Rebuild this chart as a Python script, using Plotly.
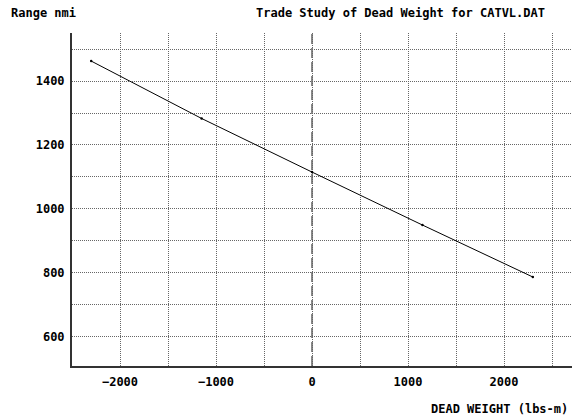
import plotly.graph_objects as go

# Data
DEAD_WEIGHT = [-2300, -1150, 0, 1150, 2300]          # lbs-m
RANGE_NMI = [1463, 1283, 1115, 949, 786]             # nmi
ZERO_REF = 0                                          # baseline (dashed line)

X_RANGE = [-2500, 2708]
Y_RANGE = [507, 1551]

TITLE = "Trade Study of Dead Weight for CATVL.DAT"
Y_LABEL = "Range nmi"
X_LABEL = "DEAD WEIGHT (lbs-m)"

FONT = dict(family="DejaVu Sans Mono", size=12, color="black", weight="bold")
GRID_COLOR = "#666666"
GRID_DASH = "1px,1px"

fig = go.Figure()
fig.add_trace(go.Scatter(
    x=DEAD_WEIGHT, y=RANGE_NMI, mode="lines+markers",
    line=dict(color="black", width=1),
    marker=dict(color="black", size=2.5),
    showlegend=False, hoverinfo="skip",
))

fig.add_shape(type="line", xref="x", yref="paper",
              x0=ZERO_REF, x1=ZERO_REF, y0=0, y1=1, layer="between",
              line=dict(color="#888888", width=2, dash="10px,4px"))

fig.update_xaxes(
    range=X_RANGE, dtick=1000, tick0=0, ticks="",
    showgrid=True, gridcolor=GRID_COLOR, griddash=GRID_DASH, gridwidth=1,
    minor=dict(dtick=500, tick0=0, showgrid=True, gridcolor=GRID_COLOR,
               griddash=GRID_DASH, gridwidth=1, ticks=""),
    zeroline=False, showline=True, linecolor="#333333", linewidth=2,
    tickfont=FONT, ticklabelstandoff=4,
)
fig.update_yaxes(
    range=Y_RANGE, dtick=200, tick0=0, ticks="",
    showgrid=True, gridcolor=GRID_COLOR, griddash=GRID_DASH, gridwidth=1,
    minor=dict(dtick=100, tick0=0, showgrid=True, gridcolor=GRID_COLOR,
               griddash=GRID_DASH, gridwidth=1, ticks=""),
    zeroline=False, showline=True, linecolor="#333333", linewidth=2,
    tickfont=FONT, ticklabelstandoff=3,
)

fig.add_annotation(text=Y_LABEL, xref="paper", yref="paper",
                   x=-0.126, y=1.06, xanchor="left", yanchor="middle",
                   showarrow=False, font=FONT)
fig.add_annotation(text=TITLE, xref="paper", yref="paper",
                   x=0.95, y=1.06, xanchor="right", yanchor="middle",
                   showarrow=False, font=FONT)
fig.add_annotation(text=X_LABEL, xref="paper", yref="paper",
                   x=0.996, y=-0.129, xanchor="right", yanchor="middle",
                   showarrow=False, font=FONT)

fig.update_layout(
    width=572, height=419,
    margin=dict(l=72, r=0, t=33, b=53),
    paper_bgcolor="white", plot_bgcolor="white",
    font=FONT,
)

fig.write_html("out.html")
